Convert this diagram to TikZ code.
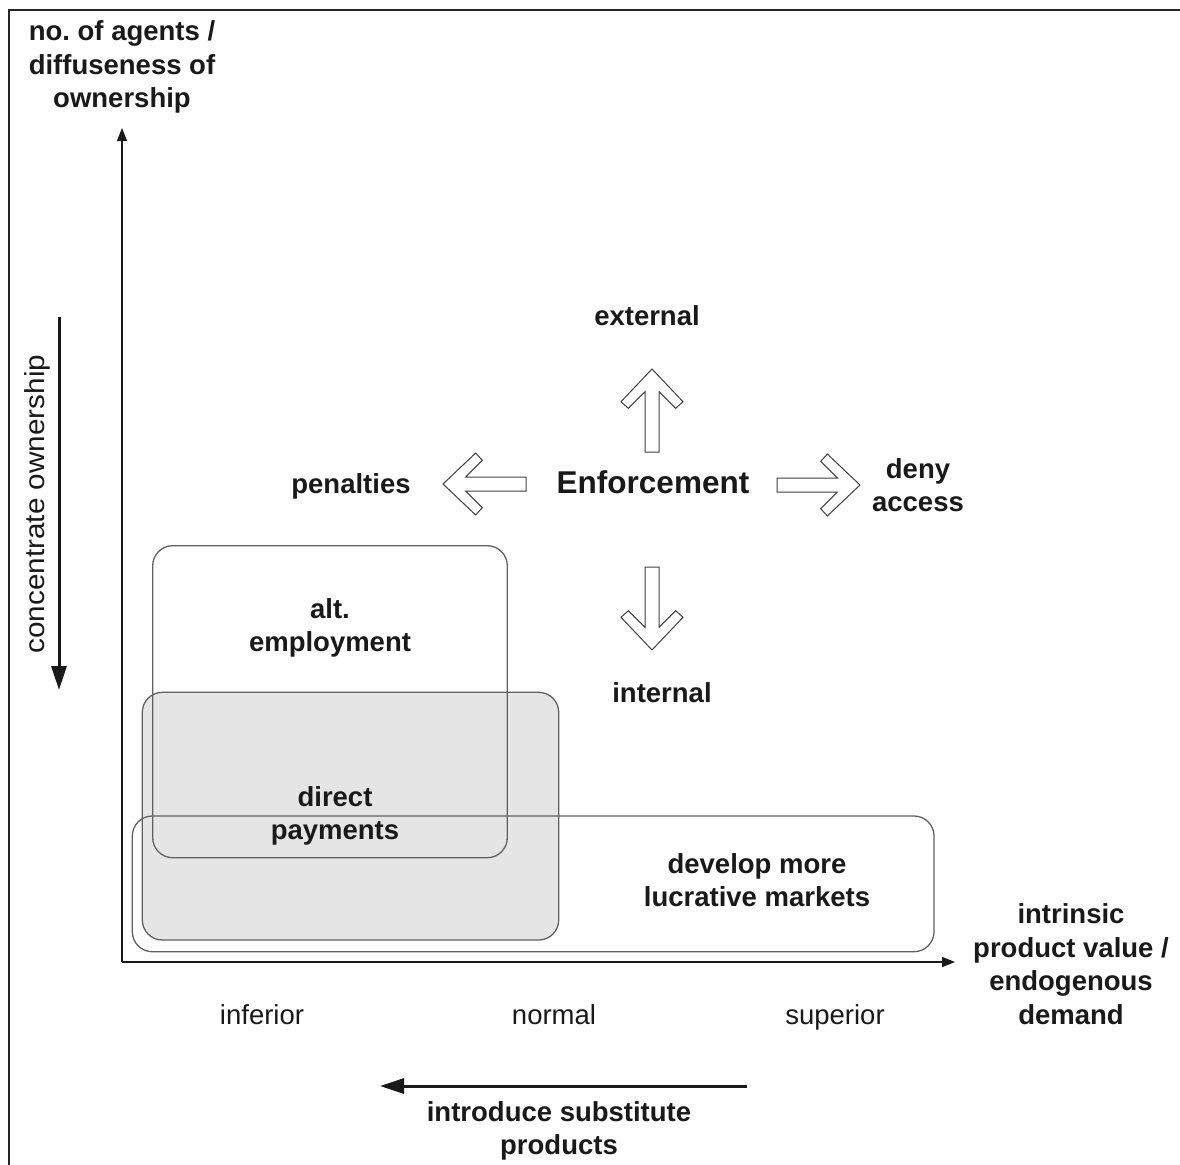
\documentclass[tikz,border=0pt]{standalone}
\usepackage{fontspec}
\setmainfont{Liberation Sans}
\usetikzlibrary{arrows.meta}
\frenchspacing
\begin{document}
\begin{tikzpicture}[x=1pt,y=-1pt,
  lbl/.style={font=\fontsize{27.5}{33.5}\selectfont\bfseries, align=center, inner sep=0pt, text=black!90},
  reg/.style={font=\fontsize{27.5}{33.5}\selectfont, align=center, inner sep=0pt, text=black!90},
  box/.style={draw=black!62, line width=1.3pt, rounded corners=20pt},
  axis/.style={line width=1.4pt, draw=black!90, -{Triangle[length=13pt,width=10pt]}},
  bigarrow/.style={line width=3pt, draw=black!90, -{Triangle[length=24pt,width=15pt]}},
  harrow/.pic={\draw[line width=1pt, draw=black!75, fill=white, line join=miter]
     (0,0) -- (-32.7,31) -- (-39.3,23.7) -- (-22.7,7) -- (-83,7) -- (-83,-7)
     -- (-22.7,-7) -- (-39.3,-23.7) -- (-32.7,-31) -- cycle;}
]
\useasboundingbox (0,0) rectangle (1180,1164);
\fill[white] (0,0) rectangle (1180,1164);
% frame
\draw[line width=2pt, black!85] (9,1170) -- (9,10) -- (1185,10);

% boxes
\fill[black!10, rounded corners=20pt] (142.3,692.3) rectangle (558.7,940);
\draw[box] (132.3,816) rectangle (934,951.7);
\draw[box] (152.7,545.7) rectangle (507.3,857.7);
\draw[box] (142.3,692.3) rectangle (558.7,940);

% axes
\coordinate (O) at (122,962);
\coordinate (ytip) at (122,128);
\coordinate (xtip) at (955,962);
\draw[axis] (O) -- (ytip);
\draw[axis] (O) -- (xtip);

% hollow arrows
\pic[rotate=90] at (652,369) {harrow};
\pic[rotate=-90] at (652,650) {harrow};
\pic[rotate=180] at (443,484) {harrow};
\pic at (860,485) {harrow};

% labels
\node[lbl] (yl) at (122,67) {no. of agents /\\diffuseness of\\ownership};
\node[lbl] (ext) at (647,316) {external};
\node[lbl, font=\fontsize{31.5}{36}\selectfont\bfseries] (enf) at (653,482) {Enforcement};
\node[lbl] (pen) at (351,486) {penalties};
\node[lbl] (deny) at (918,485) {deny\\access};
\node[lbl] (int) at (662,693) {internal};
\node[lbl] (alt) at (330,628) {alt.\\employment};
\node[lbl] (dp) at (335,816) {direct\\payments};
\node[lbl] (dev) at (757,880) {develop more\\lucrative markets};
\node[lbl] (xl) at (1071,964) {intrinsic\\product value /\\endogenous\\demand};
\node[reg, anchor=base] (inf) at (262,1024) {inferior};
\node[reg, anchor=base] (nor) at (554,1024) {normal};
\node[reg, anchor=base] (sup) at (835,1024) {superior};
\node[lbl] (sub) at (559,1131) {introduce substitute\\products};
\node[reg, rotate=90] (conc) at (37,504) {\scalebox{1.08}[1]{concentrate ownership}};

% thick arrows
\coordinate (c1) at (59,317);
\coordinate (c2) at (59,690);
\draw[bigarrow] (c1) -- (c2);
\coordinate (s1) at (747,1086);
\coordinate (s2) at (380,1086);
\draw[bigarrow] (s1) -- (s2);
\end{tikzpicture}
\end{document}
